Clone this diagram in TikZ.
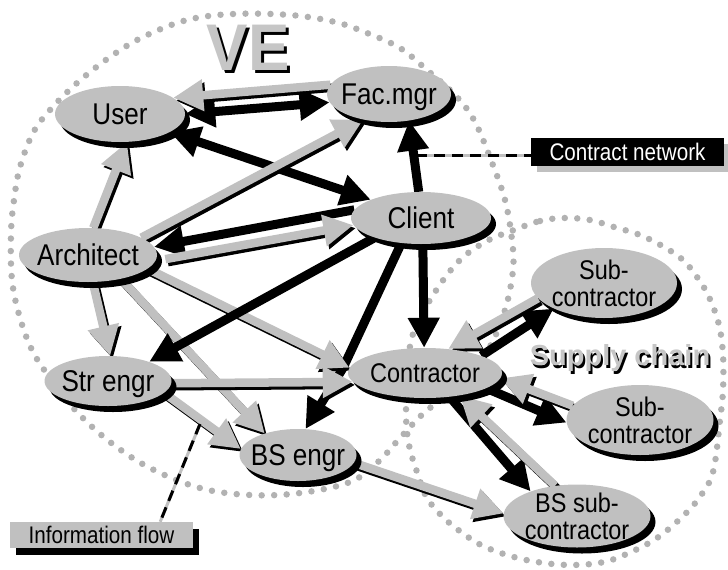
\documentclass[tikz,border=0pt]{standalone}
\usepackage{fontspec}
\setmainfont{Liberation Sans}
\newfontfamily\partyfont[FakeStretch=0.87]{Liberation Sans}
\newfontfamily\boxfont[FakeStretch=0.86]{Liberation Sans}
\newfontfamily\titlefont[FakeStretch=0.94]{Liberation Sans}
\usetikzlibrary{arrows.meta,shapes.geometric,shadows,calc}

\pgfdeclarelayer{dots}
\pgfdeclarelayer{edges}
\pgfsetlayers{dots,edges,main}

\definecolor{fillgrey}{RGB}{192,192,192}
\definecolor{dotgrey}{RGB}{178,178,178}
\definecolor{titlegrey}{RGB}{198,198,198}

% information flow: grey arrow over a black offset copy
\newcommand\infoflow[3][]{%
  \draw[ifshade,#1] (#2) -- (#3);
  \draw[ifarrow,#1] (#2) -- (#3);}

\begin{document}
\begin{tikzpicture}[x=1pt,y=-1pt,
  >={Triangle[length=30pt,width=30pt]},
  ctarrow/.style={draw=black, line width=9pt, line join=round, ->},
  ctboth/.style={draw=black, line width=9pt, <->},
  ifarrow/.style={draw=fillgrey, line width=8.5pt, ->},
  ifshade/.style={draw=black, line width=8.5pt, ->,
    transform canvas={xshift=2.5pt, yshift=-3pt}},
  dotring/.style={draw=dotgrey, line width=6.5pt, line cap=round,
    dash pattern=on 0pt off 12.5pt},
  party/.style={ellipse, fill=fillgrey, inner sep=0pt,
    drop shadow={shadow xshift=5pt, shadow yshift=-6pt, fill=black, opacity=1}},
  lbl/.style={font={\partyfont\fontsize{30}{26}\selectfont}, text depth=0pt,
    inner sep=0pt, align=center},
  lblsm/.style={font={\partyfont\fontsize{27}{27}\selectfont}, text depth=0pt,
    inner sep=0pt, align=center},
  leader/.style={draw=black, line width=3pt, dash pattern=on 11pt off 7pt,
    preaction={draw=fillgrey, solid, line width=3pt}},
  boxtext/.style={font={\boxfont\fontsize{24}{24}\selectfont}, text depth=0pt,
    inner sep=0pt}
]
\useasboundingbox (0,0) rectangle (728,570);

% dotted region outlines
\begin{pgfonlayer}{dots}
\draw[dotring] plot[smooth cycle, tension=0.6] coordinates {
  (187,20) (233,14) (290,15) (335,22) (367,33) (400,48) (427,70) (455,95)
  (474,120) (491,160) (505,200) (512,240) (513,270) (505,310) (488,350)
  (460,385) (425,412) (400,438) (378,462) (350,482) (300,493) (250,495)
  (200,488) (150,468) (110,442) (77,412) (53,382) (33,352) (20,318)
  (12,280) (11,233) (14,200) (20,167) (33,133) (50,110) (77,83) (110,57)
  (143,37)};
\draw[dotring] plot[smooth cycle, tension=0.6] coordinates {
  (514,230) (540,221) (564,218) (590,220) (614,227) (640,235) (664,247)
  (683,260) (697,277) (709,297) (719,325) (723,355) (723,390) (720,420)
  (713,472) (699,498) (681,518) (657,538) (631,552) (604,562) (571,565)
  (537,562) (507,555) (481,545) (461,532) (444,518) (427,498) (417,472)
  (409,445) (406,415) (408,375) (412,337) (430,300) (457,263) (485,242)};
\end{pgfonlayer}

% region titles
\node[font={\titlefont\bfseries\fontsize{66}{66}\selectfont}, text=black,
  text depth=0pt, inner sep=0pt] (veshade) at (251,51) {VE};
\node[font={\titlefont\bfseries\fontsize{66}{66}\selectfont}, text=titlegrey,
  text depth=0pt, inner sep=0pt] (vetitle) at (248,48) {VE};
\node[font={\bfseries\fontsize{29}{29}\selectfont}, text=black,
  text depth=0pt, inner sep=0pt] (scshade) at (622,358) {Supply chain};
\node[font={\bfseries\fontsize{29}{29}\selectfont}, text=titlegrey,
  text depth=0pt, inner sep=0pt] (sctitle) at (620,355) {Supply chain};

% parties
\path
  node[party, minimum width=130pt, minimum height=56pt,
       label={[lbl]center:User}] (user) at (120,114) {}
  node[party, minimum width=124pt, minimum height=56pt,
       label={[lbl]center:Fac.mgr}] (facmgr) at (389,94) {}
  node[party, minimum width=140pt, minimum height=52pt,
       label={[lbl]center:Client}] (client) at (421,218) {}
  node[party, minimum width=138pt, minimum height=54pt,
       label={[lbl]center:Architect}] (architect) at (88,255) {}
  node[party, minimum width=127pt, minimum height=50pt,
       label={[lbl]center:Str engr}] (streng) at (108,381) {}
  node[party, minimum width=117pt, minimum height=52pt,
       label={[lbl]center:BS engr}] (bsengr) at (298,455) {}
  node[party, minimum width=154pt, minimum height=50pt,
       label={[lblsm]center:Contractor}] (contractor) at (425,373) {}
  node[party, minimum width=146pt, minimum height=70pt,
       label={[lblsm]center:Sub-\\contractor}] (sub1) at (604,283) {}
  node[party, minimum width=147pt, minimum height=70pt,
       label={[lblsm]center:Sub-\\contractor}] (sub2) at (640,420) {}
  node[party, minimum width=147pt, minimum height=63pt,
       label={[lblsm]center:BS sub-\\contractor}] (bssub) at (577,516) {};

% legend boxes
\node[fill=black, text=white, boxtext, minimum width=193pt, minimum height=28pt,
  drop shadow={shadow xshift=6pt, shadow yshift=-6pt, fill=fillgrey, opacity=1}]
  (cnbox) at (627.5,152) {Contract network};
\node[fill=fillgrey, text=black, boxtext, minimum width=183pt, minimum height=26pt,
  drop shadow={shadow xshift=6pt, shadow yshift=-7pt, fill=black, opacity=1}]
  (ifbox) at (101.5,535) {Information flow};

\coordinate (cnpin) at (416,155);
\coordinate (ifpin) at (200,424);
\coordinate (cbend) at (343,368);

\begin{pgfonlayer}{edges}
% contract network leader
\draw[leader] (cnpin) -- ([yshift=-3pt]cnbox.west);

% contract network (black)
\draw[ctboth] (user.0) -- (facmgr.188);
\draw[ctboth] (user.-20) -- (client.160);
\draw[ctarrow] (client.95) -- (facmgr.-53);
\draw[ctarrow] (client.173) -- (architect.7);
\draw[ctarrow] (client.-86) -- (contractor.92);
\draw[ctarrow] (client.232) -- (cbend) -- (bsengr.74);
\draw[ctarrow] (contractor.17) -- (sub1.207);
\draw[ctarrow] (contractor.-14) -- (sub2.182);
\draw[ctarrow] (contractor.-44) -- (bssub.152);

% information flow (grey)
\infoflow{facmgr.171}{user.17}
\infoflow{architect.79}{user.-76}
\infoflow{architect.18}{facmgr.225}
\infoflow[shorten <=10pt]{architect.-5}{client.186}
\infoflow{architect.-80}{streng.85}
\infoflow{architect.-36}{bsengr.147}
\infoflow{architect.-13}{contractor.176}
\infoflow{streng.-2}{contractor.187}
\infoflow{streng.-12}{bsengr.174}
\infoflow{bsengr.-8}{bssub.178}
\infoflow{sub1.193}{contractor.46}
\infoflow{sub2.168}{contractor.-4}
\infoflow{bssub.126}{contractor.-33}

\draw[ctarrow] (client.203) -- (streng.25);
\end{pgfonlayer}

% information flow leader
\draw[leader] (ifpin) -- ($(ifbox.north)!0.64!(ifbox.north east)$);

\end{tikzpicture}
\end{document}
